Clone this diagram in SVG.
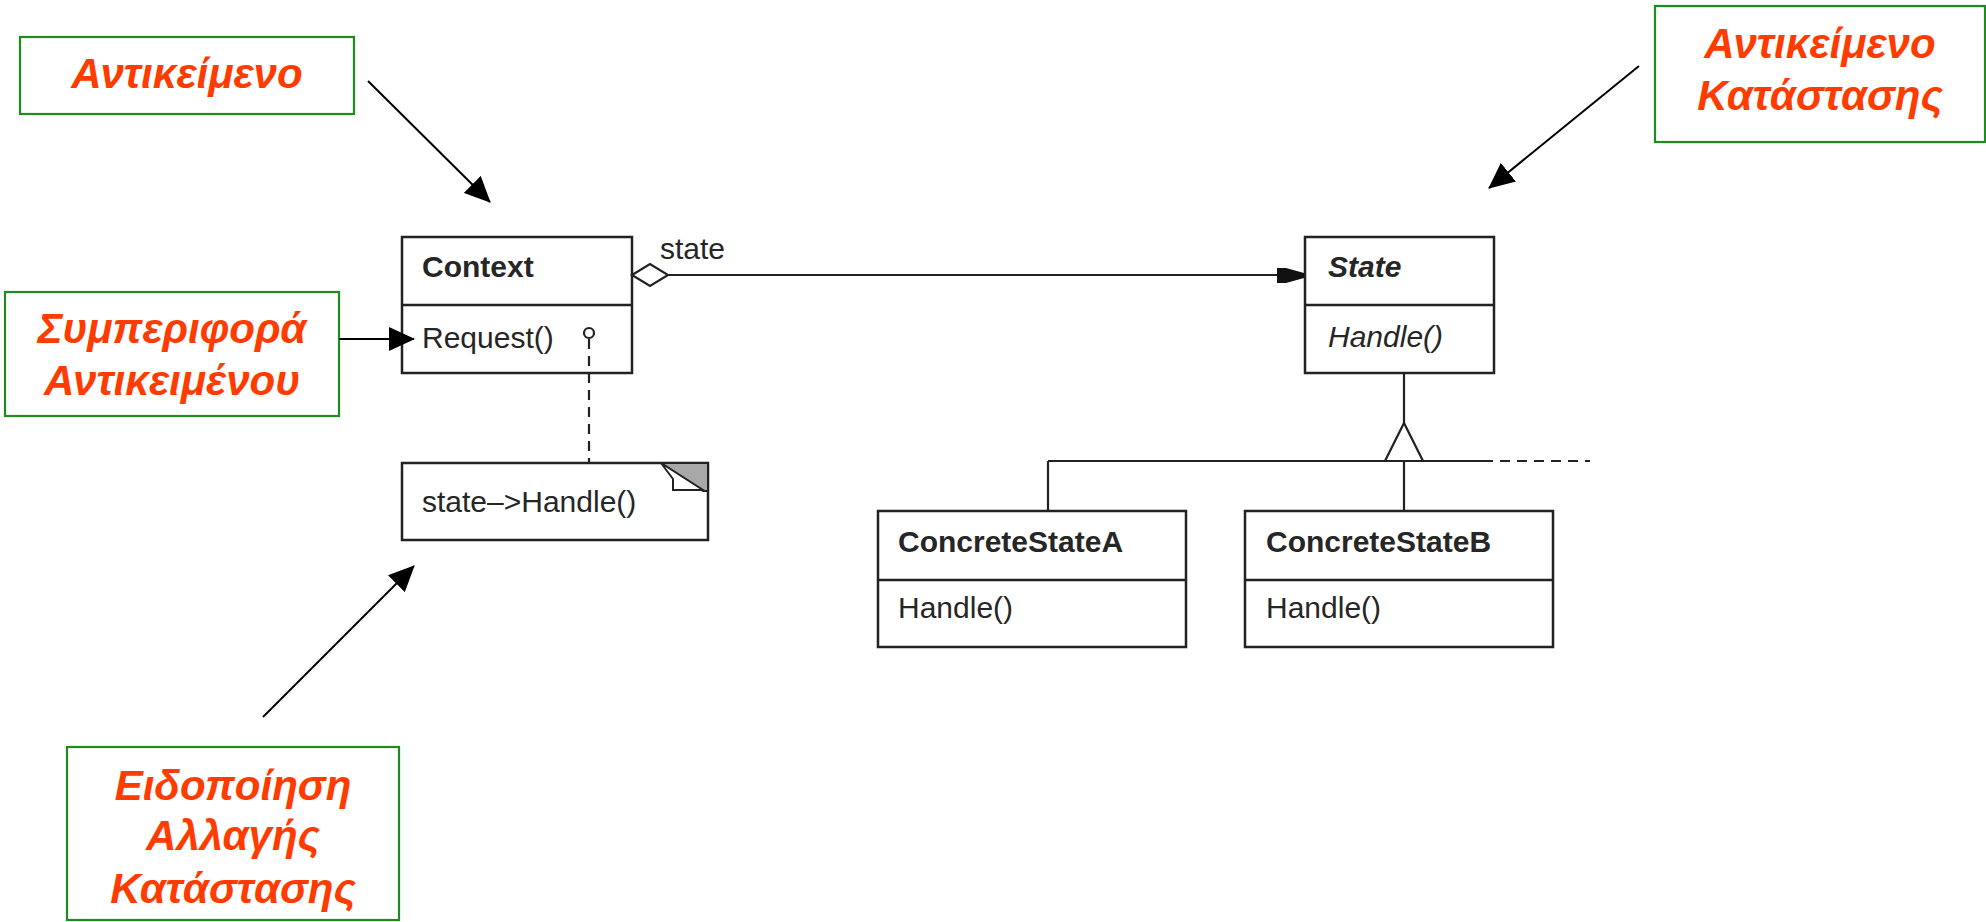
<svg xmlns="http://www.w3.org/2000/svg" width="1986" height="922" viewBox="0 0 1986 922">
<defs>
<marker id="ah" viewBox="0 0 26 24" refX="25" refY="12" markerUnits="userSpaceOnUse" markerWidth="26" markerHeight="24" orient="auto">
<path d="M0,0 L26,12 L0,24 z" fill="#000"/>
</marker>
<style>
.call{fill:#fff;stroke:#1e8c1e;stroke-width:2.2}
.lbl{font-family:"Liberation Sans",Arial,sans-serif;font-size:42px;font-weight:bold;font-style:italic;fill:#ff3c00;text-anchor:middle}
.ptr{stroke:#000;stroke-width:2;fill:none;marker-end:url(#ah)}
.cls{fill:#fff;stroke:#222;stroke-width:2.5}
.div{stroke:#222;stroke-width:2.5}
.ln{stroke:#222;stroke-width:2.2;fill:none}
.dash{stroke:#222;stroke-width:2.2;fill:none;stroke-dasharray:10 7}
.t{font-family:"Liberation Sans",Arial,sans-serif;font-size:30px;fill:#262626}
.b{font-weight:bold}
.i{font-style:italic}
</style>
</defs>
<rect width="1986" height="922" fill="#fff"/>

<g id="context">
<rect class="cls" x="402" y="237" width="230" height="136"/>
<line class="div" x1="402" y1="305" x2="632" y2="305"/>
<text class="t b" x="422" y="277">Context</text>
<text class="t" x="422" y="348">Request()</text>
</g>

<g id="note">
<path d="M402,463 H708 V540 H402 Z" fill="#fff" stroke="#222" stroke-width="2.5"/>
<polygon points="661,463 708,463 708,491 703,491" fill="#a8a8a8" stroke="#222" stroke-width="2"/>
<polygon points="661,463 673,479 673,490 703,490" fill="#fff" stroke="#222" stroke-width="2"/>
<text class="t" x="422" y="512">state–&gt;Handle()</text>
</g>

<g id="state">
<rect class="cls" x="1305" y="237" width="189" height="136"/>
<line class="div" x1="1305" y1="305" x2="1494" y2="305"/>
<text class="t b i" x="1328" y="277">State</text>
<text class="t i" x="1328" y="347">Handle()</text>
</g>

<g id="concreteStateA">
<rect class="cls" x="878" y="511" width="308" height="136"/>
<line class="div" x1="878" y1="580" x2="1186" y2="580"/>
<text class="t b" x="898" y="552">ConcreteStateA</text>
<text class="t" x="898" y="618">Handle()</text>
</g>

<g id="concreteStateB">
<rect class="cls" x="1245" y="511" width="308" height="136"/>
<line class="div" x1="1245" y1="580" x2="1553" y2="580"/>
<text class="t b" x="1266" y="552">ConcreteStateB</text>
<text class="t" x="1266" y="618">Handle()</text>
</g>

<g id="callout-object">
<rect class="call" x="20" y="37" width="334" height="77"/>
<text class="lbl" x="187" y="88">Αντικείμενο</text>
</g>

<g id="callout-state-object">
<rect class="call" x="1655" y="6" width="330" height="136"/>
<text class="lbl" x="1820" y="58">Αντικείμενο</text>
<text class="lbl" x="1820" y="110">Κατάστασης</text>
</g>

<g id="callout-behaviour">
<rect class="call" x="5" y="292" width="334" height="124"/>
<text class="lbl" x="172" y="343">Συμπεριφορά</text>
<text class="lbl" x="172" y="395">Αντικειμένου</text>
</g>

<g id="callout-notification">
<rect class="call" x="67" y="747" width="332" height="173"/>
<text class="lbl" x="233" y="800">Ειδοποίηση</text>
<text class="lbl" x="233" y="850">Αλλαγής</text>
<text class="lbl" x="233" y="903">Κατάστασης</text>
</g>

<g id="connectors">
<line class="ln" x1="668" y1="275" x2="1280" y2="275"/>
<polygon points="632,275 650,264 668,275 650,286" fill="#fff" stroke="#222" stroke-width="2.2"/>
<polygon points="1277,268 1286,268 1304,273 1304,278 1286,283 1277,283" fill="#111"/>
<text class="t" x="660" y="259">state</text>
<line class="dash" x1="589" y1="339" x2="589" y2="463"/>
<circle cx="589" cy="333" r="5" fill="#fff" stroke="#222" stroke-width="2.2"/>
<line class="ln" x1="1404" y1="373" x2="1404" y2="423"/>
<polygon points="1404,423 1385,461 1423,461" fill="#fff" stroke="#222" stroke-width="2.2"/>
<line class="ln" x1="1048" y1="461" x2="1483" y2="461"/>
<line class="dash" x1="1483" y1="461" x2="1590" y2="461"/>
<line class="ln" x1="1048" y1="461" x2="1048" y2="511"/>
<line class="ln" x1="1404" y1="461" x2="1404" y2="511"/>
<line class="ptr" x1="368" y1="81" x2="490" y2="202"/>
<line class="ptr" x1="1639" y1="66" x2="1489" y2="188"/>
<line class="ptr" x1="339" y1="339" x2="414" y2="339"/>
<line class="ptr" x1="263" y1="717" x2="414" y2="566"/>
</g>
</svg>
